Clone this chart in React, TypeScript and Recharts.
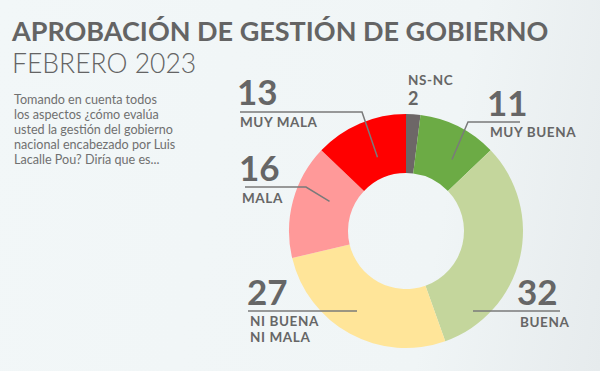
import { PieChart, Pie, Cell } from "recharts"

const categories = ["NS-NC", "MUY BUENA", "BUENA", "NI BUENA NI MALA", "MALA", "MUY MALA"]
const values = [2, 11, 32, 27, 16, 13]
const palette = ["#6d6767", "#6cab45", "#c4d69c", "#ffe599", "#ff9999", "#ff0000"]

const title = "APROBACIÓN DE GESTIÓN DE GOBIERNO"
const subtitle = "FEBRERO 2023"
const question = [
  "Tomando en cuenta todos",
  "los aspectos ¿cómo evalúa",
  "usted la gestión del gobierno",
  "nacional encabezado por Luis",
  "Lacalle Pou? Diría que es...",
]

const data = categories.map((name, i) => ({ name, value: values[i] }))

// where each label sits; tip = point on the slice the leader line goes to
type LabelLayout = {
  x: number
  numY: number
  numSize: number
  textY: number
  lines: string[]
  line?: { y: number; x1: number; x2: number; tipR?: number; tipOffset?: number }
  textFirst?: boolean
}

const labelLayout: LabelLayout[] = [
  { x: 408, numY: 105, numSize: 18, textY: 85, lines: ["NS-NC"], textFirst: true },
  { x: 487, numY: 116, numSize: 35, textY: 137, lines: ["MUY BUENA"], line: { y: 122, x1: 468, x2: 520, tipR: 85, tipOffset: -6 } },
  { x: 517, numY: 305, numSize: 35, textY: 327, lines: ["BUENA"], line: { y: 311, x1: 473, x2: 560 } },
  { x: 247, numY: 305, numSize: 35, textY: 326, lines: ["NI BUENA", "NI MALA"], line: { y: 311, x1: 248, x2: 357 } },
  { x: 239, numY: 181, numSize: 35, textY: 203, lines: ["MALA"], line: { y: 187, x1: 245, x2: 306, tipR: 82, tipOffset: -6 } },
  { x: 237, numY: 105, numSize: 35, textY: 127, lines: ["MUY MALA"], line: { y: 112, x1: 240, x2: 362, tipR: 79, tipOffset: -2 } },
]

const RADIAN = Math.PI / 180
const ink = "#666666"

function renderLabel(props: any) {
  const { index, cx, cy, midAngle, value } = props
  const l = labelLayout[index]
  let path = ""
  if (l.line) {
    if (l.line.tipR) {
      const a = (midAngle + (l.line.tipOffset || 0)) * RADIAN
      const tx = cx + l.line.tipR * Math.cos(-a)
      const ty = cy + l.line.tipR * Math.sin(-a)
      const elbow = tx < cx ? l.line.x2 : l.line.x1
      const far = tx < cx ? l.line.x1 : l.line.x2
      path = `M${far},${l.line.y}L${elbow},${l.line.y}L${tx},${ty}`
    } else {
      path = `M${l.line.x1},${l.line.y}L${l.line.x2},${l.line.y}`
    }
  }
  return (
    <g key={`lbl-${index}`} fontFamily="Lato" fill={ink}>
      {path && <path d={path} stroke="#7a7a7a" strokeWidth={1.5} fill="none" />}
      <text x={l.x} y={l.numY} fontSize={l.numSize} fontWeight={700} fill={ink}>
        {value}
      </text>
      {l.lines.map((t, i) => (
        <text
          key={t}
          x={l.textFirst ? l.x : l.x + 3}
          y={l.textY + i * 16}
          fontSize={13.5}
          fontWeight={700}
          letterSpacing={0.6}
          fill={ink}
        >
          {t}
        </text>
      ))}
    </g>
  )
}

export default function App() {
  return (
    <div
      style={{
        position: "absolute",
        left: 0,
        top: 0,
        width: 600,
        height: 371,
        overflow: "hidden",
        background: "linear-gradient(100deg, #f2f7f8 0%, #f0f5f6 72%, #e6ebed 100%)",
      }}
    >
      <svg width={600} height={371} style={{ position: "absolute", left: 0, top: 0 }}>
        <text x={12} y={41} fontFamily="Lato" fontWeight={700} fontSize={27} fill="#646464">
          {title}
        </text>
        <text x={12} y={73} fontFamily="Lato" fontWeight={300} fontSize={26.5} fill="#646464">
          {subtitle}
        </text>
        {question.map((q, i) => (
          <text key={i} x={14} y={104 + i * 15} fontFamily="Lato" fontSize={12.6} fill="#707070">
            {q}
          </text>
        ))}
      </svg>
      <div style={{ position: "absolute", left: 0, top: 0 }}>
        <PieChart width={600} height={371} margin={{ top: 0, right: 0, bottom: 0, left: 0 }}>
          <Pie
            data={data}
            dataKey="value"
            nameKey="name"
            cx={406}
            cy={231}
            innerRadius={58}
            outerRadius={117}
            startAngle={90}
            endAngle={-270}
            stroke="none"
            label={renderLabel}
            labelLine={false}
            isAnimationActive={false}
          >
            {data.map((d, i) => (
              <Cell key={d.name} fill={palette[i]} />
            ))}
          </Pie>
        </PieChart>
      </div>
    </div>
  )
}
